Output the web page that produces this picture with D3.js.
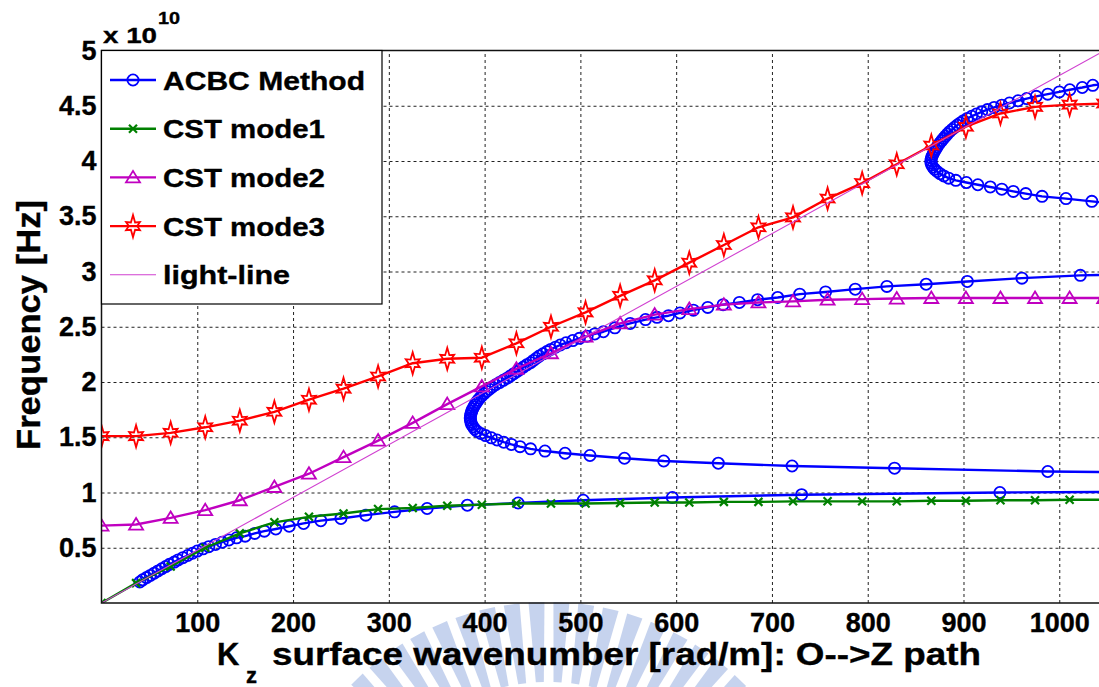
<!DOCTYPE html>
<html>
<head>
<meta charset="utf-8">
<script src="https://cdn.jsdelivr.net/npm/d3@7"></script>
<style>
body { margin: 0; background: #fff; }
text { font-family: "Liberation Sans", Arial, Helvetica, sans-serif; font-weight: bold; fill: #000; stroke: #000; stroke-width: 0.35px; }
</style>
</head>
<body>
<div id="chart"></div>
<script>
// CST sample points, same k for all three modes
var cstK = [0, 36.1, 72.2, 108.3, 144.4, 180.5, 216.6, 252.7, 288.8, 324.9, 361, 397.1, 433.2, 469.3, 505.4,
    541.5, 577.6, 613.7, 649.8, 685.9, 722, 758.1, 794.2, 830.3, 866.4, 902.5, 938.6, 974.7, 1010.8, 1046.9];
var mode1F = [0, 0.18, 0.33, 0.50, 0.63, 0.73, 0.78, 0.81, 0.85, 0.86, 0.88, 0.89, 0.90, 0.90, 0.90,
    0.905, 0.91, 0.91, 0.915, 0.915, 0.92, 0.92, 0.92, 0.92, 0.925, 0.925, 0.93, 0.93, 0.935, 0.935];
var mode2F = [0.70, 0.71, 0.77, 0.84, 0.93, 1.05, 1.17, 1.32, 1.47, 1.63, 1.80, 1.96, 2.12, 2.26, 2.41,
    2.53, 2.61, 2.66, 2.70, 2.72, 2.73, 2.745, 2.75, 2.755, 2.76, 2.76, 2.76, 2.76, 2.76, 2.76];
var mode3F = [1.51, 1.51, 1.54, 1.59, 1.65, 1.73, 1.84, 1.94, 2.05, 2.17, 2.21, 2.22, 2.35, 2.50, 2.63,
    2.78, 2.92, 3.08, 3.24, 3.40, 3.49, 3.66, 3.80, 3.97, 4.14, 4.31, 4.43, 4.49, 4.51, 4.52];

// ACBC branches (k in rad/m, f in 1e10 Hz), in path order
var acbcK1 = [40, 43, 47, 51, 55, 59, 63, 67, 71, 76, 80, 85, 90, 95, 100, 106, 112, 119, 126, 133,
    141, 150, 160, 170, 182, 196, 211, 229, 250, 276, 306, 340, 382, 435, 503, 596, 731, 938, 1050];
var acbcF1 = [0.19, 0.21, 0.23, 0.25, 0.27, 0.29, 0.31, 0.33, 0.35, 0.37, 0.39, 0.41, 0.43, 0.45, 0.47, 0.49, 0.51, 0.53, 0.55, 0.57,
    0.59, 0.605, 0.63, 0.65, 0.67, 0.695, 0.72, 0.745, 0.765, 0.795, 0.825, 0.855, 0.885, 0.905, 0.93, 0.955, 0.98, 1.0, 1.005];

var acbcK2 = [1050, 988, 828, 721, 644, 587, 546, 510, 484, 463, 448, 437, 428, 420, 413, 407, 401, 396, 392, 389.5,
    388, 386.5, 385.7, 385.2, 385, 385.3, 385.8, 386.5, 387.5, 388.7, 390, 391.5, 393, 395, 397, 399.5, 402, 405, 408, 411.5,
    415.5, 419.5, 423.5, 427, 430.5, 434, 437, 440.5, 444, 448, 451, 454, 457, 461, 465, 469, 474, 479, 485, 492,
    499, 507, 515, 524, 536, 552, 568, 580, 592, 604, 618, 633, 649, 666, 685, 706, 729, 756, 787, 820,
    861, 904, 961, 1022, 1050];
var acbcF2 = [1.185, 1.19, 1.22, 1.24, 1.265, 1.285, 1.31, 1.335, 1.355, 1.375, 1.395, 1.415, 1.435, 1.455, 1.475, 1.495, 1.515, 1.535, 1.555, 1.575,
    1.595, 1.615, 1.635, 1.655, 1.675, 1.695, 1.715, 1.735, 1.755, 1.775, 1.795, 1.815, 1.835, 1.855, 1.875, 1.895, 1.915, 1.935, 1.955, 1.975,
    1.995, 2.015, 2.035, 2.055, 2.075, 2.095, 2.115, 2.135, 2.155, 2.175, 2.195, 2.215, 2.235, 2.255, 2.275, 2.295, 2.315, 2.335, 2.355, 2.375,
    2.395, 2.415, 2.435, 2.455, 2.49, 2.53, 2.565, 2.585, 2.60, 2.625, 2.65, 2.675, 2.70, 2.72, 2.745, 2.765, 2.795, 2.815, 2.84, 2.865,
    2.885, 2.91, 2.94, 2.965, 2.97];

var acbcK3 = [1050, 1034, 1007, 982, 965, 952, 940, 928, 915, 903, 892, 884.5, 879.5, 875.5, 872.5, 870, 868, 866.7, 866, 866,
    866.5, 867.3, 868.3, 869.5, 870.8, 872.2, 873.8, 875.5, 877.3, 879.2, 881.2, 883.3, 885.5, 888, 890.7, 893.6, 896.7, 900, 904, 908.5,
    913.5, 919, 925, 932, 940, 948, 957, 966, 976, 988, 1000, 1011, 1024, 1035, 1050];
var acbcF3 = [3.62, 3.635, 3.66, 3.68, 3.705, 3.725, 3.745, 3.765, 3.785, 3.805, 3.825, 3.845, 3.865, 3.885, 3.905, 3.925, 3.945, 3.965, 3.985, 4.005,
    4.025, 4.045, 4.065, 4.085, 4.105, 4.125, 4.145, 4.165, 4.185, 4.205, 4.225, 4.245, 4.265, 4.285, 4.305, 4.325, 4.345, 4.365, 4.385, 4.405,
    4.425, 4.445, 4.465, 4.485, 4.505, 4.525, 4.545, 4.565, 4.585, 4.605, 4.625, 4.645, 4.665, 4.685, 4.70];

// light line end points
var lightK = [0, 1042];
var lightF = [0, 4.975];

var xTicks = [100, 200, 300, 400, 500, 600, 700, 800, 900, 1000];
var yTicks = [0.5, 1, 1.5, 2, 2.5, 3, 3.5, 4, 4.5, 5];
var legendNames = ["ACBC Method", "CST mode1", "CST mode2", "CST mode3", "light-line"];

function zipPoints(ks, fs) {
    return ks.map(function(k, i) { return {k: k, f: fs[i]}; });
}

// Define the SVG Area
var svgWidth = 1099;
var svgHeight = 687;

var margin = {
    top: 50.5,
    right: -0.5,
    bottom: 84,
    left: 101.5
};

var chartWidth = svgWidth - margin.left - margin.right;
var chartHeight = svgHeight - margin.top - margin.bottom;

var svg = d3.select("#chart")
    .append("svg")
    .attr("width", svgWidth)
    .attr("height", svgHeight);

// faint watermark behind the chart (sunrise rays)
var mark = svg.append("g").attr("fill", "#c6d3ee");
d3.range(-44, 45, 5.2).forEach(function(a) {
    mark.append("path")
        .attr("d", "M-4,-195L-8,-275L8,-275L4,-195Z")
        .attr("transform", "translate(548,877) rotate(" + a + ")");
});

var chartGroup = svg.append("g")
    .attr("transform", `translate(${margin.left}, ${margin.top})`);

var xScale = d3.scaleLinear()
    .domain([0, 1042])
    .range([0, chartWidth]);

var yScale = d3.scaleLinear()
    .domain([0, 5])
    .range([chartHeight, 0]);

// Dotted grid
chartGroup.append("g")
    .attr("class", "grid")
    .attr("transform", `translate(0, ${chartHeight})`)
    .call(d3.axisBottom(xScale).tickValues(xTicks).tickSize(-chartHeight).tickFormat(""))
    .call(g => g.select(".domain").remove());

chartGroup.append("g")
    .attr("class", "grid")
    .call(d3.axisLeft(yScale).tickValues(yTicks.slice(0, -1)).tickSize(-chartWidth).tickFormat(""))
    .call(g => g.select(".domain").remove());

chartGroup.selectAll(".grid line")
    .attr("stroke", "#222")
    .attr("stroke-width", 1)
    .attr("stroke-dasharray", "3,3");

// Axes with tick labels
var xAxis = chartGroup.append("g")
    .attr("transform", `translate(0, ${chartHeight})`)
    .call(d3.axisBottom(xScale).tickValues(xTicks).tickSize(0).tickPadding(10).tickFormat(d => String(d)));

var yAxis = chartGroup.append("g")
    .call(d3.axisLeft(yScale).tickValues(yTicks).tickSize(0).tickPadding(5).tickFormat(d => String(d)));

[xAxis, yAxis].forEach(function(ax) {
    ax.select(".domain").remove();
    ax.selectAll("text")
        .style("font-family", "'Liberation Sans', Arial, sans-serif")
        .style("font-weight", "bold")
        .style("font-size", "27px")
        .attr("fill", "#000");
});

// Clip the data to the axes box
svg.append("defs").append("clipPath")
    .attr("id", "plotClip")
    .append("rect")
    .attr("width", chartWidth)
    .attr("height", chartHeight);

var plotGroup = chartGroup.append("g").attr("clip-path", "url(#plotClip)");

var lineGen = d3.line()
    .x(d => xScale(d.k))
    .y(d => yScale(d.f));

// Marker shapes
function markerPath(type) {
    if (type === "circle") {
        return d3.symbol().type(d3.symbolCircle).size(Math.PI * 5.6 * 5.6)();
    }
    if (type === "x") {
        return "M-4,-4L4,4M-4,4L4,-4";
    }
    if (type === "triangle") {
        return "M0,-6.5L7,5L-7,5Z";
    }
    if (type === "hexagram") {
        // spiky six point star, long points up and down
        var p = [];
        for (var j = 0; j < 12; j++) {
            var a = (-90 + 30 * j) * Math.PI / 180;
            var r = j % 2 === 1 ? 4.2 : (j === 0 || j === 6 ? 11 : 8);
            p.push([r * Math.cos(a), r * Math.sin(a)]);
        }
        return "M" + p.join("L") + "Z";
    }
    return "";
}

var styles = [
    {color: "#0000ff", width: 2.4, marker: "circle", mw: 1.8},
    {color: "#008000", width: 2.4, marker: "x", mw: 2.2},
    {color: "#c000c0", width: 2.4, marker: "triangle", mw: 1.8},
    {color: "#ff0000", width: 2.4, marker: "hexagram", mw: 1.8},
    {color: "#d040d0", width: 1.1, marker: null, mw: 0}
];

function drawSeries(pts, st) {
    plotGroup.append("path")
        .datum(pts)
        .attr("d", lineGen)
        .attr("fill", "none")
        .attr("stroke", st.color)
        .attr("stroke-width", st.width)
        .attr("stroke-linejoin", "round");

    if (st.marker) {
        plotGroup.append("g")
            .selectAll("path")
            .data(pts)
            .enter()
            .append("path")
            .attr("d", markerPath(st.marker))
            .attr("transform", d => `translate(${xScale(d.k)}, ${yScale(d.f)})`)
            .attr("fill", "none")
            .attr("stroke", st.color)
            .attr("stroke-width", st.mw);
    }
}

drawSeries(zipPoints(acbcK1, acbcF1), styles[0]);
drawSeries(zipPoints(acbcK2, acbcF2), styles[0]);
drawSeries(zipPoints(acbcK3, acbcF3), styles[0]);
drawSeries(zipPoints(cstK, mode1F), styles[1]);
drawSeries(zipPoints(cstK, mode2F), styles[2]);
drawSeries(zipPoints(cstK, mode3F), styles[3]);
drawSeries(zipPoints(lightK, lightF), styles[4]);

// Axes box (right side is outside the picture)
chartGroup.append("path")
    .attr("d", `M${chartWidth},0H0V${chartHeight}H${chartWidth}`)
    .attr("fill", "none")
    .attr("stroke", "#111")
    .attr("stroke-width", 1.5);

// Legend
var legendWidths = [202, 162, 162, 162, 127];
var legend = chartGroup.append("g");

legend.append("rect")
    .attr("x", 0)
    .attr("y", 0)
    .attr("width", 280.5)
    .attr("height", 253.5)
    .attr("fill", "#fff")
    .attr("stroke", "#000")
    .attr("stroke-width", 1.2);

legendNames.forEach(function(name, i) {
    var st = styles[i];
    var ly = 29.5 + i * 48.7;
    legend.append("line")
        .attr("x1", 8.5)
        .attr("x2", 54.5)
        .attr("y1", ly)
        .attr("y2", ly)
        .attr("stroke", st.color)
        .attr("stroke-width", st.width);
    if (st.marker) {
        legend.append("path")
            .attr("d", markerPath(st.marker))
            .attr("transform", `translate(31.5, ${ly})`)
            .attr("fill", "none")
            .attr("stroke", st.color)
            .attr("stroke-width", st.mw);
    }
    legend.append("text")
        .attr("x", 61.5)
        .attr("y", ly + 9.5)
        .attr("textLength", legendWidths[i])
        .attr("lengthAdjust", "spacingAndGlyphs")
        .style("font-size", "26px")
        .text(name);
});

// Exponent label
svg.append("text")
    .attr("x", 103)
    .attr("y", 43)
    .attr("textLength", 54)
    .attr("lengthAdjust", "spacingAndGlyphs")
    .style("font-size", "22px")
    .text("x 10");

svg.append("text")
    .attr("x", 158)
    .attr("y", 24)
    .attr("textLength", 22)
    .attr("lengthAdjust", "spacingAndGlyphs")
    .style("font-size", "16px")
    .text("10");

// Axis labels
svg.append("text")
    .attr("text-anchor", "middle")
    .attr("transform", "translate(40, 325) rotate(-90)")
    .attr("textLength", 250)
    .attr("lengthAdjust", "spacingAndGlyphs")
    .style("font-size", "33px")
    .text("Frequency [Hz]");

svg.append("text")
    .attr("x", 217)
    .attr("y", 665)
    .style("font-size", "31px")
    .text("K");

svg.append("text")
    .attr("x", 246)
    .attr("y", 683)
    .style("font-size", "22px")
    .text("z");

svg.append("text")
    .attr("x", 272)
    .attr("y", 665)
    .attr("textLength", 709)
    .attr("lengthAdjust", "spacingAndGlyphs")
    .style("font-size", "31px")
    .text("surface wavenumber [rad/m]: O-->Z path");
</script>
</body>
</html>
